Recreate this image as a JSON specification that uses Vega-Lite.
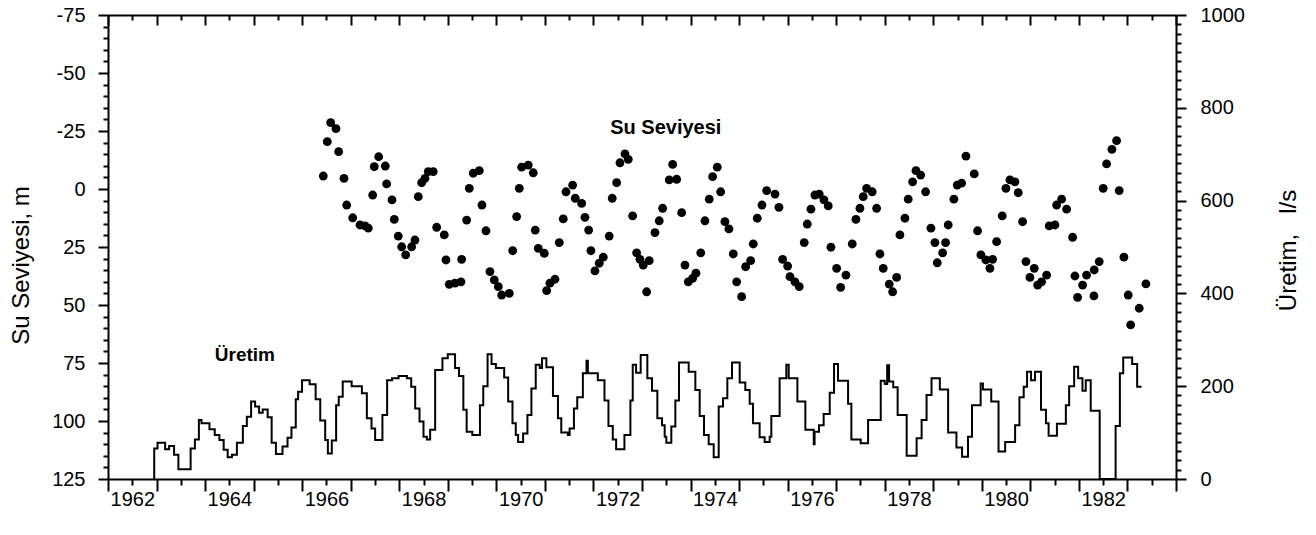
{
 "$schema": "https://vega.github.io/schema/vega-lite/v6.json",
 "width": 1068, "height": 464,
 "autosize": "none",
 "padding": {"left": 108, "top": 15, "right": 140, "bottom": 56},
 "background": "white",
 "config": {
  "view": {"stroke": null},
  "axis": {"labelFont": "Liberation Sans", "titleFont": "Liberation Sans", "labelColor": "black", "titleColor": "black", "domainColor": "black", "tickColor": "black", "domainWidth": 2, "tickWidth": 2, "grid": false, "labelFontSize": 20, "titleFontWeight": "normal", "titleFontSize": 24}
 },
 "datasets": {
  "level": [
   {"yr":1966.435,"lvl":-5.6},{"yr":1966.517,"lvl":-20.4},{"yr":1966.587,"lvl":-28.6},{"yr":1966.696,"lvl":-26.0},{"yr":1966.752,"lvl":-16.1},{"yr":1966.861,"lvl":-4.6},{"yr":1966.917,"lvl":6.9},{"yr":1967.040,"lvl":12.4},{"yr":1967.191,"lvl":15.5},{"yr":1967.294,"lvl":15.9},{"yr":1967.361,"lvl":16.9},{"yr":1967.452,"lvl":2.6},{"yr":1967.485,"lvl":-9.6},{"yr":1967.576,"lvl":-13.9},{"yr":1967.712,"lvl":-9.9},{"yr":1967.740,"lvl":-2.2},{"yr":1967.850,"lvl":4.7},{"yr":1967.897,"lvl":13.1},{"yr":1967.979,"lvl":20.3},{"yr":1968.049,"lvl":24.9},{"yr":1968.132,"lvl":28.4},{"yr":1968.255,"lvl":24.9},{"yr":1968.323,"lvl":22.0},{"yr":1968.391,"lvl":3.3},{"yr":1968.461,"lvl":-2.7},{"yr":1968.529,"lvl":-4.6},{"yr":1968.597,"lvl":-7.5},{"yr":1968.700,"lvl":-7.5},{"yr":1968.770,"lvl":16.5},{"yr":1968.927,"lvl":19.8},{"yr":1968.962,"lvl":30.6},{"yr":1969.030,"lvl":41.1},{"yr":1969.147,"lvl":40.6},{"yr":1969.271,"lvl":40.0},{"yr":1969.285,"lvl":30.3},{"yr":1969.388,"lvl":13.4},{"yr":1969.442,"lvl":-0.3},{"yr":1969.524,"lvl":-6.8},{"yr":1969.648,"lvl":-7.9},{"yr":1969.703,"lvl":6.9},{"yr":1969.786,"lvl":18.0},{"yr":1969.868,"lvl":35.6},{"yr":1969.957,"lvl":39.2},{"yr":1970.039,"lvl":42.1},{"yr":1970.109,"lvl":45.7},{"yr":1970.266,"lvl":45.0},{"yr":1970.336,"lvl":26.6},{"yr":1970.418,"lvl":11.9},{"yr":1970.472,"lvl":-0.3},{"yr":1970.521,"lvl":-9.4},{"yr":1970.657,"lvl":-10.3},{"yr":1970.760,"lvl":-7.0},{"yr":1970.801,"lvl":17.7},{"yr":1970.863,"lvl":25.6},{"yr":1970.987,"lvl":27.7},{"yr":1971.036,"lvl":43.8},{"yr":1971.104,"lvl":40.6},{"yr":1971.207,"lvl":38.9},{"yr":1971.296,"lvl":23.1},{"yr":1971.378,"lvl":12.9},{"yr":1971.434,"lvl":1.2},{"yr":1971.571,"lvl":-1.7},{"yr":1971.625,"lvl":4.0},{"yr":1971.757,"lvl":6.2},{"yr":1971.825,"lvl":12.2},{"yr":1971.901,"lvl":17.7},{"yr":1971.948,"lvl":26.6},{"yr":1972.031,"lvl":35.3},{"yr":1972.119,"lvl":32.0},{"yr":1972.202,"lvl":29.4},{"yr":1972.325,"lvl":20.3},{"yr":1972.387,"lvl":4.0},{"yr":1972.478,"lvl":-2.7},{"yr":1972.546,"lvl":-11.3},{"yr":1972.649,"lvl":-15.1},{"yr":1972.717,"lvl":-12.8},{"yr":1972.807,"lvl":11.6},{"yr":1972.889,"lvl":27.5},{"yr":1972.958,"lvl":30.3},{"yr":1973.026,"lvl":32.8},{"yr":1973.096,"lvl":44.3},{"yr":1973.149,"lvl":30.9},{"yr":1973.267,"lvl":18.8},{"yr":1973.355,"lvl":13.7},{"yr":1973.425,"lvl":8.3},{"yr":1973.561,"lvl":-3.9},{"yr":1973.631,"lvl":-10.6},{"yr":1973.714,"lvl":-4.2},{"yr":1973.817,"lvl":10.2},{"yr":1973.885,"lvl":32.8},{"yr":1973.953,"lvl":40.0},{"yr":1974.043,"lvl":38.5},{"yr":1974.111,"lvl":36.3},{"yr":1974.210,"lvl":27.5},{"yr":1974.297,"lvl":13.7},{"yr":1974.385,"lvl":4.4},{"yr":1974.455,"lvl":-5.3},{"yr":1974.550,"lvl":-9.4},{"yr":1974.620,"lvl":1.2},{"yr":1974.708,"lvl":14.1},{"yr":1974.791,"lvl":17.2},{"yr":1974.880,"lvl":28.0},{"yr":1974.950,"lvl":40.0},{"yr":1975.053,"lvl":46.4},{"yr":1975.135,"lvl":33.5},{"yr":1975.238,"lvl":30.9},{"yr":1975.292,"lvl":23.7},{"yr":1975.374,"lvl":12.6},{"yr":1975.471,"lvl":6.9},{"yr":1975.568,"lvl":0.7},{"yr":1975.739,"lvl":2.2},{"yr":1975.821,"lvl":7.9},{"yr":1975.897,"lvl":30.3},{"yr":1976.000,"lvl":33.2},{"yr":1976.048,"lvl":37.8},{"yr":1976.151,"lvl":40.0},{"yr":1976.239,"lvl":42.1},{"yr":1976.342,"lvl":23.1},{"yr":1976.404,"lvl":15.1},{"yr":1976.480,"lvl":8.7},{"yr":1976.562,"lvl":2.6},{"yr":1976.651,"lvl":2.2},{"yr":1976.748,"lvl":4.7},{"yr":1976.836,"lvl":7.3},{"yr":1976.892,"lvl":25.1},{"yr":1977.009,"lvl":34.2},{"yr":1977.092,"lvl":42.4},{"yr":1977.201,"lvl":37.1},{"yr":1977.331,"lvl":23.7},{"yr":1977.407,"lvl":13.1},{"yr":1977.489,"lvl":8.3},{"yr":1977.557,"lvl":3.3},{"yr":1977.627,"lvl":-0.3},{"yr":1977.742,"lvl":1.2},{"yr":1977.833,"lvl":8.3},{"yr":1977.901,"lvl":28.0},{"yr":1977.969,"lvl":34.2},{"yr":1978.093,"lvl":41.0},{"yr":1978.163,"lvl":44.3},{"yr":1978.245,"lvl":38.1},{"yr":1978.313,"lvl":19.8},{"yr":1978.416,"lvl":12.6},{"yr":1978.484,"lvl":4.4},{"yr":1978.575,"lvl":-3.1},{"yr":1978.643,"lvl":-7.9},{"yr":1978.740,"lvl":-6.0},{"yr":1978.842,"lvl":1.2},{"yr":1978.952,"lvl":16.9},{"yr":1979.034,"lvl":23.1},{"yr":1979.082,"lvl":31.8},{"yr":1979.193,"lvl":27.5},{"yr":1979.254,"lvl":23.1},{"yr":1979.308,"lvl":15.5},{"yr":1979.425,"lvl":4.4},{"yr":1979.493,"lvl":-1.7},{"yr":1979.584,"lvl":-2.5},{"yr":1979.673,"lvl":-14.2},{"yr":1979.844,"lvl":-6.5},{"yr":1979.913,"lvl":18.0},{"yr":1979.981,"lvl":28.4},{"yr":1980.084,"lvl":30.6},{"yr":1980.167,"lvl":34.2},{"yr":1980.222,"lvl":30.3},{"yr":1980.305,"lvl":22.7},{"yr":1980.420,"lvl":11.6},{"yr":1980.496,"lvl":-0.3},{"yr":1980.579,"lvl":-3.9},{"yr":1980.682,"lvl":-3.1},{"yr":1980.750,"lvl":1.6},{"yr":1980.840,"lvl":14.1},{"yr":1980.909,"lvl":31.3},{"yr":1980.991,"lvl":38.1},{"yr":1981.080,"lvl":34.2},{"yr":1981.150,"lvl":41.4},{"yr":1981.231,"lvl":40.0},{"yr":1981.335,"lvl":37.1},{"yr":1981.388,"lvl":15.9},{"yr":1981.506,"lvl":15.5},{"yr":1981.541,"lvl":6.9},{"yr":1981.644,"lvl":4.4},{"yr":1981.747,"lvl":8.7},{"yr":1981.870,"lvl":20.8},{"yr":1981.918,"lvl":37.5},{"yr":1981.973,"lvl":46.7},{"yr":1982.076,"lvl":41.4},{"yr":1982.158,"lvl":37.1},{"yr":1982.309,"lvl":46.1},{"yr":1982.315,"lvl":34.9},{"yr":1982.418,"lvl":31.3},{"yr":1982.500,"lvl":-0.3},{"yr":1982.570,"lvl":-10.8},{"yr":1982.680,"lvl":-17.1},{"yr":1982.776,"lvl":-20.8},{"yr":1982.830,"lvl":0.7},{"yr":1982.927,"lvl":29.4},{"yr":1983.016,"lvl":45.7},{"yr":1983.066,"lvl":58.6},{"yr":1983.242,"lvl":51.4},{"yr":1983.380,"lvl":40.9}
  ],
  "prod": [
   {"yr":1962.952,"q":0},{"yr":1962.952,"q":66},{"yr":1963.020,"q":78},{"yr":1963.177,"q":64},{"yr":1963.259,"q":71},{"yr":1963.361,"q":52},{"yr":1963.450,"q":21},{"yr":1963.702,"q":66},{"yr":1963.790,"q":85},{"yr":1963.872,"q":127},{"yr":1963.926,"q":120},{"yr":1964.090,"q":107},{"yr":1964.199,"q":95},{"yr":1964.294,"q":84},{"yr":1964.383,"q":63},{"yr":1964.465,"q":47},{"yr":1964.553,"q":52},{"yr":1964.655,"q":78},{"yr":1964.778,"q":114},{"yr":1964.860,"q":134},{"yr":1964.948,"q":167},{"yr":1965.030,"q":156},{"yr":1965.112,"q":143},{"yr":1965.187,"q":150},{"yr":1965.289,"q":133},{"yr":1965.371,"q":78},{"yr":1965.459,"q":54},{"yr":1965.595,"q":70},{"yr":1965.698,"q":89},{"yr":1965.779,"q":111},{"yr":1965.868,"q":172},{"yr":1965.916,"q":188},{"yr":1965.997,"q":213},{"yr":1966.154,"q":204},{"yr":1966.277,"q":172},{"yr":1966.372,"q":126},{"yr":1966.474,"q":84},{"yr":1966.529,"q":55},{"yr":1966.610,"q":83},{"yr":1966.699,"q":159},{"yr":1966.753,"q":177},{"yr":1966.835,"q":210},{"yr":1967.019,"q":200},{"yr":1967.230,"q":185},{"yr":1967.332,"q":131},{"yr":1967.428,"q":109},{"yr":1967.503,"q":84},{"yr":1967.653,"q":138},{"yr":1967.750,"q":213},{"yr":1967.850,"q":217},{"yr":1967.986,"q":222},{"yr":1968.157,"q":217},{"yr":1968.246,"q":199},{"yr":1968.328,"q":152},{"yr":1968.417,"q":124},{"yr":1968.499,"q":91},{"yr":1968.568,"q":85},{"yr":1968.636,"q":106},{"yr":1968.739,"q":235},{"yr":1968.889,"q":260},{"yr":1968.999,"q":269},{"yr":1969.149,"q":239},{"yr":1969.231,"q":222},{"yr":1969.320,"q":149},{"yr":1969.388,"q":102},{"yr":1969.505,"q":95},{"yr":1969.662,"q":159},{"yr":1969.730,"q":200},{"yr":1969.819,"q":269},{"yr":1969.901,"q":248},{"yr":1969.990,"q":239},{"yr":1970.161,"q":219},{"yr":1970.243,"q":167},{"yr":1970.332,"q":120},{"yr":1970.400,"q":95},{"yr":1970.448,"q":80},{"yr":1970.551,"q":98},{"yr":1970.640,"q":138},{"yr":1970.722,"q":195},{"yr":1970.811,"q":246},{"yr":1970.893,"q":239},{"yr":1970.941,"q":260},{"yr":1971.030,"q":241},{"yr":1971.166,"q":179},{"yr":1971.269,"q":131},{"yr":1971.337,"q":100},{"yr":1971.474,"q":95},{"yr":1971.509,"q":109},{"yr":1971.598,"q":152},{"yr":1971.666,"q":176},{"yr":1971.782,"q":228},{"yr":1971.857,"q":255},{"yr":1971.885,"q":228},{"yr":1972.090,"q":213},{"yr":1972.227,"q":169},{"yr":1972.309,"q":114},{"yr":1972.398,"q":85},{"yr":1972.467,"q":64},{"yr":1972.638,"q":95},{"yr":1972.761,"q":169},{"yr":1972.809,"q":246},{"yr":1972.878,"q":229},{"yr":1972.973,"q":267},{"yr":1973.110,"q":217},{"yr":1973.206,"q":190},{"yr":1973.316,"q":131},{"yr":1973.412,"q":116},{"yr":1973.467,"q":91},{"yr":1973.501,"q":78},{"yr":1973.604,"q":113},{"yr":1973.687,"q":169},{"yr":1973.762,"q":251},{"yr":1973.962,"q":231},{"yr":1974.099,"q":192},{"yr":1974.188,"q":136},{"yr":1974.277,"q":95},{"yr":1974.374,"q":75},{"yr":1974.477,"q":47},{"yr":1974.580,"q":156},{"yr":1974.669,"q":174},{"yr":1974.758,"q":217},{"yr":1974.854,"q":251},{"yr":1975.012,"q":208},{"yr":1975.128,"q":192},{"yr":1975.218,"q":162},{"yr":1975.286,"q":120},{"yr":1975.423,"q":90},{"yr":1975.527,"q":80},{"yr":1975.630,"q":91},{"yr":1975.664,"q":136},{"yr":1975.835,"q":217},{"yr":1975.973,"q":246},{"yr":1976.022,"q":217},{"yr":1976.201,"q":167},{"yr":1976.365,"q":106},{"yr":1976.538,"q":75},{"yr":1976.555,"q":102},{"yr":1976.646,"q":116},{"yr":1976.742,"q":140},{"yr":1976.867,"q":186},{"yr":1976.956,"q":248},{"yr":1977.038,"q":212},{"yr":1977.245,"q":162},{"yr":1977.313,"q":85},{"yr":1977.505,"q":77},{"yr":1977.657,"q":127},{"yr":1977.918,"q":212},{"yr":1978.000,"q":205},{"yr":1978.050,"q":245},{"yr":1978.090,"q":210},{"yr":1978.175,"q":198},{"yr":1978.266,"q":138},{"yr":1978.452,"q":50},{"yr":1978.657,"q":88},{"yr":1978.760,"q":127},{"yr":1978.862,"q":181},{"yr":1978.964,"q":217},{"yr":1979.135,"q":193},{"yr":1979.306,"q":100},{"yr":1979.477,"q":68},{"yr":1979.593,"q":48},{"yr":1979.716,"q":91},{"yr":1979.798,"q":159},{"yr":1979.976,"q":206},{"yr":1980.023,"q":193},{"yr":1980.194,"q":167},{"yr":1980.344,"q":59},{"yr":1980.481,"q":80},{"yr":1980.686,"q":116},{"yr":1980.775,"q":176},{"yr":1980.863,"q":199},{"yr":1980.932,"q":231},{"yr":1981.014,"q":213},{"yr":1981.096,"q":231},{"yr":1981.219,"q":149},{"yr":1981.321,"q":120},{"yr":1981.376,"q":93},{"yr":1981.547,"q":119},{"yr":1981.731,"q":159},{"yr":1981.799,"q":200},{"yr":1981.902,"q":242},{"yr":1981.984,"q":217},{"yr":1982.073,"q":190},{"yr":1982.141,"q":213},{"yr":1982.243,"q":147},{"yr":1982.428,"q":0},{"yr":1982.756,"q":114},{"yr":1982.844,"q":228},{"yr":1982.913,"q":262},{"yr":1983.097,"q":248},{"yr":1983.200,"q":199},{"yr":1983.289,"q":199}
  ],
  "lab1": [{"yr": 1973.49, "lvl": -26.3, "t": "Su Seviyesi"}],
  "lab2": [{"yr": 1964.82, "q": 267, "t": "Üretim"}]
 },
 "layer": [
  {
   "data": {"name": "level"},
   "mark": {"type": "point", "filled": true, "color": "black", "size": 78, "opacity": 1},
   "encoding": {
    "x": {"field": "yr", "type": "quantitative",
     "scale": {"domain": [1962, 1984], "nice": false, "zero": false},
     "axis": {"orient": "bottom", "title": null,
      "values": [1962,1962.5,1963,1963.5,1964,1964.5,1965,1965.5,1966,1966.5,1967,1967.5,1968,1968.5,1969,1969.5,1970,1970.5,1971,1971.5,1972,1972.5,1973,1973.5,1974,1974.5,1975,1975.5,1976,1976.5,1977,1977.5,1978,1978.5,1979,1979.5,1980,1980.5,1981,1981.5,1982,1982.5,1983,1983.5,1984],
      "tickSize": {"condition": {"test": "datum.value % 1 === 0", "value": 12}, "value": 6},
      "labelExpr": "datum.value % 2 === 0.5 ? '' + floor(datum.value) : ''",
      "labelOverlap": false, "labelFlush": false, "labelPadding": 4}},
    "y": {"field": "lvl", "type": "quantitative",
     "scale": {"domain": [-75, 125], "reverse": true, "nice": false, "zero": false},
     "axis": {"orient": "left", "title": "Su Seviyesi, m",
      "values": [-75,-70,-65,-60,-55,-50,-45,-40,-35,-30,-25,-20,-15,-10,-5,0,5,10,15,20,25,30,35,40,45,50,55,60,65,70,75,80,85,90,95,100,105,110,115,120,125],
      "tickSize": {"condition": {"test": "datum.value % 25 === 0", "value": 10}, "value": 5},
      "labelExpr": "datum.value % 25 === 0 ? '' + datum.value : ''",
      "labelOverlap": false, "labelFlush": false, "labelPadding": 13,
      "titleAngle": -90, "titleX": -87, "titleY": 250, "titleAlign": "center", "titleBaseline": "middle"}}
   }
  },
  {
   "data": {"name": "lab1"},
   "mark": {"type": "text", "font": "Liberation Sans", "fontWeight": "bold", "fontSize": 20, "color": "black", "align": "center", "baseline": "middle"},
   "encoding": {
    "x": {"field": "yr", "type": "quantitative", "scale": {"domain": [1962, 1984], "nice": false, "zero": false}, "axis": null},
    "y": {"field": "lvl", "type": "quantitative", "scale": {"domain": [-75, 125], "reverse": true, "nice": false, "zero": false}, "axis": null},
    "text": {"field": "t"}
   }
  },
  {
   "data": {"name": "prod"},
   "mark": {"type": "line", "interpolate": "step-after", "color": "black", "strokeWidth": 2},
   "encoding": {
    "x": {"field": "yr", "type": "quantitative",
     "scale": {"domain": [1962, 1984], "nice": false, "zero": false},
     "axis": {"orient": "top", "title": null, "labels": false,
      "values": [1962,1962.5,1963,1963.5,1964,1964.5,1965,1965.5,1966,1966.5,1967,1967.5,1968,1968.5,1969,1969.5,1970,1970.5,1971,1971.5,1972,1972.5,1973,1973.5,1974,1974.5,1975,1975.5,1976,1976.5,1977,1977.5,1978,1978.5,1979,1979.5,1980,1980.5,1981,1981.5,1982,1982.5,1983,1983.5,1984],
      "tickSize": {"condition": {"test": "datum.value % 1 === 0", "value": -10}, "value": -5}}},
    "y": {"field": "q", "type": "quantitative",
     "scale": {"domain": [0, 1000], "nice": false, "zero": false},
     "axis": {"orient": "right", "title": "Üretim,\u00a0\u00a0\u00a0l/s",
      "values": [0,20,40,60,80,100,120,140,160,180,200,220,240,260,280,300,320,340,360,380,400,420,440,460,480,500,520,540,560,580,600,620,640,660,680,700,720,740,760,780,800,820,840,860,880,900,920,940,960,980,1000],
      "tickSize": {"condition": {"test": "datum.value % 200 === 0", "value": 10}, "value": 5},
      "labelExpr": "datum.value % 200 === 0 ? '' + datum.value : ''",
      "labelOverlap": false, "labelFlush": false, "labelPadding": 14,
      "titleAngle": -90, "titleX": 112, "titleY": 235, "titleAlign": "center", "titleBaseline": "middle"}}
   }
  },
  {
   "data": {"name": "lab2"},
   "mark": {"type": "text", "font": "Liberation Sans", "fontWeight": "bold", "fontSize": 19, "color": "black", "align": "center", "baseline": "middle"},
   "encoding": {
    "x": {"field": "yr", "type": "quantitative", "scale": {"domain": [1962, 1984], "nice": false, "zero": false}, "axis": null},
    "y": {"field": "q", "type": "quantitative", "scale": {"domain": [0, 1000], "nice": false, "zero": false}, "axis": null},
    "text": {"field": "t"}
   }
  }
 ],
 "resolve": {"scale": {"x": "independent", "y": "independent"}, "axis": {"x": "independent", "y": "independent"}}
}
